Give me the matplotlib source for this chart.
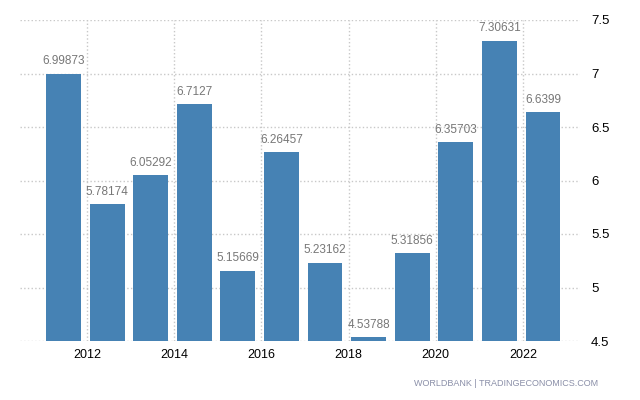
import matplotlib
matplotlib.use("Agg")
import matplotlib.pyplot as plt

plt.rcParams["font.family"] = ["Liberation Sans", "DejaVu Sans"]

years = [2011, 2012, 2013, 2014, 2015, 2016, 2017, 2018, 2019, 2020, 2021, 2022]
values = [6.99873, 5.78174, 6.05292, 6.7127, 5.15669, 6.26457, 5.23162, 4.53788,
          5.31856, 6.35703, 7.30631, 6.6399]
labels = ["6.99873", "5.78174", "6.05292", "6.7127", "5.15669", "6.26457", "5.23162",
          "4.53788", "5.31856", "6.35703", "7.30631", "6.6399"]
xticks = [2012, 2014, 2016, 2018, 2020, 2022]
yticks = [4.5, 5, 5.5, 6, 6.5, 7, 7.5]
ytick_labels = ["4.5", "5", "5.5", "6", "6.5", "7", "7.5"]

fig = plt.figure(figsize=(6.4, 4.0), dpi=100)
ax = fig.add_axes([0.03125, 0.1475, 0.875, 0.8025])

xpos = [y + 0.46 for y in years]
ax.bar(xpos, values, width=0.8, color="#4682b4", zorder=3)
for x, v, t in zip(xpos, values, labels):
    ax.annotate(t, (x, v), xytext=(0, 4.5), textcoords="offset points",
                ha="center", va="bottom", fontsize=8.5, color="#777777", zorder=4)

ax.set_xlim(2010.46, 2023.31)
ax.set_ylim(4.5, 7.5)
ax.set_xticks(xticks)
ax.set_xticklabels([str(x) for x in xticks], fontsize=9)
ax.set_yticks(yticks)
ax.set_yticklabels(ytick_labels, fontsize=9.5)
ax.yaxis.tick_right()
ax.tick_params(axis="y", length=0, pad=8)
ax.tick_params(axis="x", length=0, pad=6)
ax.grid(True, color="#c8c8c8", linestyle=":", linewidth=1, zorder=0)
for s in ax.spines.values():
    s.set_visible(False)

fig.text(0.935, 0.04, "WORLDBANK | TRADINGECONOMICS.COM", ha="right", va="center",
         fontsize=6.5, color="#8a8fa8")

fig.savefig("out.png", dpi=100)
